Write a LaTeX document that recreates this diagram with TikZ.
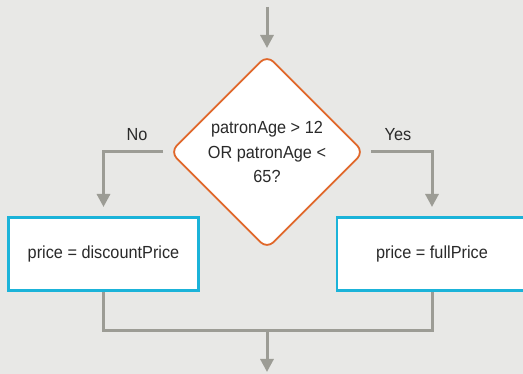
\documentclass[tikz,border=0pt]{standalone}
\usepackage{fontspec}
\setmainfont{Liberation Sans}[FakeStretch=0.93]
\usetikzlibrary{shapes.geometric,arrows.meta}
\definecolor{bg}{HTML}{E8E8E6}
\definecolor{conn}{HTML}{9C9C95}
\definecolor{dorange}{HTML}{E0672A}
\definecolor{bcyan}{HTML}{1BB3D9}
\definecolor{txt}{HTML}{2A2A2A}
\tikzset{
  conn/.style={draw=conn, line width=3pt, -{Triangle[length=13pt,width=13pt]}},
  connplain/.style={draw=conn, line width=3pt},
  decision/.style={shape=diamond, draw=dorange, fill=white, line width=1.8pt, rounded corners=9pt, minimum width=194pt, minimum height=194pt, inner sep=0pt, align=center, font=\fontsize{17.5}{24.5}\selectfont, text=txt},
  process/.style={shape=rectangle, draw=bcyan, fill=white, line width=2.6pt, minimum width=190pt, minimum height=73pt, inner sep=0pt, font=\fontsize{17.5}{20}\selectfont, text=txt},
  lbl/.style={font=\fontsize{17.5}{20}\selectfont, text=txt, inner sep=0pt}
}
\begin{document}
\begin{tikzpicture}[x=1pt,y=-1pt]
\fill[bg] (0,0) rectangle (523,374);
\useasboundingbox (0,0) rectangle (523,374);
\clip (0,0) rectangle (523,374);
\node[decision] (d) at (267,152) {patronAge > 12\\OR patronAge <\\65?};
\node[process] (l) at (103.5,254) {\raisebox{2pt}{price = discountPrice}};
\node[process] (r) at (432,254) {\raisebox{2pt}{price = fullPrice}};
\coordinate (top) at (267,7);
\coordinate (topend) at (267,48);
\coordinate (lstart) at (163,152);
\coordinate (rstart) at (371,152);
\coordinate (lend) at (103.5,207);
\coordinate (rend) at (432,207);
\coordinate (ljoin) at (103.5,331);
\coordinate (rjoin) at (432,331);
\coordinate (mjoin) at (267,331);
\coordinate (bot) at (267,372);
\draw[conn] (top) -- (topend);
\draw[conn] (lstart) -| (lend);
\draw[conn] (rstart) -| (rend);
\draw[connplain] (l.south) -- (ljoin) -- (rjoin) -- (r.south);
\draw[conn] (mjoin) -- (bot);
\node[lbl] (no) at (137,135) {No};
\node[lbl] (yes) at (398,135) {Yes};
\end{tikzpicture}
\end{document}
